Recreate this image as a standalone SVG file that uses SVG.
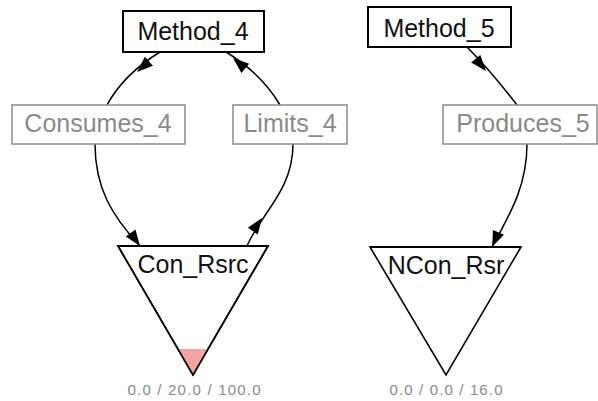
<svg xmlns="http://www.w3.org/2000/svg" xmlns:xlink="http://www.w3.org/1999/xlink" width="598" height="401" viewBox="0 0 598 401">
<style>
.bg{fill:#ffffff}
.method rect{fill:#ffffff;stroke:#000000;stroke-width:2}
.method text{font-family:"Liberation Sans",Arial,sans-serif;font-size:25px;fill:#111111;text-anchor:middle}
.link rect{fill:#ffffff;stroke:#8a8a8a;stroke-width:1.5}
.link text{font-family:"Liberation Sans",Arial,sans-serif;font-size:25px;fill:#8a8a8a;text-anchor:middle}
.res polygon.tri{fill:#ffffff;stroke:#000000;stroke-width:1.6;stroke-linejoin:miter}
.res polygon.lvl{fill:#f4a3a3;stroke:none}
.res line.top{stroke:#000000;stroke-width:2.2}
.res text.name{font-family:"Liberation Sans",Arial,sans-serif;font-size:25px;fill:#111111;text-anchor:middle}
.res text.val{font-family:"Liberation Sans",Arial,sans-serif;font-size:15px;fill:#8a8a8a;text-anchor:middle}
.edge{fill:none;stroke:#000000;stroke-width:1.5}
.head{fill:#000000;stroke:none}
</style>
<defs>
<path id="ah" d="M0,0 L-16,-6 L-16,6 Z"/>
</defs>
<rect class="bg" x="0" y="0" width="598" height="401"/>

<g id="connectors">
<path class="edge" d="M160,52 Q124,74 107,105"/>
<path class="edge" d="M95,144 C95,188 112,216 140,246"/>
<path class="edge" d="M247,246 C262,212 293,190 293,144"/>
<path class="edge" d="M280,105 Q262,74 226,52"/>
<path class="edge" d="M467,47 Q490,70 517,105"/>
<path class="edge" d="M527,144 C527,186 510,214 492,247"/>
<use class="head" xlink:href="#ah" href="#ah" transform="translate(137,72) rotate(138)"/>
<use class="head" xlink:href="#ah" href="#ah" transform="translate(233,58) rotate(-140)"/>
<use class="head" xlink:href="#ah" href="#ah" transform="translate(486,71) rotate(50)"/>
<use class="head" xlink:href="#ah" href="#ah" transform="translate(140,246) rotate(54)"/>
<use class="head" xlink:href="#ah" href="#ah" transform="translate(262,218) rotate(-55)"/>
<use class="head" xlink:href="#ah" href="#ah" transform="translate(492,247) rotate(114)"/>
</g>

<g id="Method_4" class="method">
<rect x="123" y="11" width="141" height="41"/>
<text x="193" y="40">Method_4</text>
</g>
<g id="Method_5" class="method">
<rect x="368" y="7" width="143" height="40"/>
<text x="439" y="37">Method_5</text>
</g>
<g id="Consumes_4" class="link">
<rect x="12" y="105" width="173" height="39"/>
<text x="98" y="132">Consumes_4</text>
</g>
<g id="Limits_4" class="link">
<rect x="233" y="105" width="114" height="39"/>
<text x="290" y="132">Limits_4</text>
</g>
<g id="Produces_5" class="link">
<rect x="443" y="105" width="154" height="39"/>
<text x="523" y="132">Produces_5</text>
</g>
<g id="Con_Rsrc" class="res">
<polygon class="tri" points="118,246 268,246 193,375"/>
<polygon class="lvl" points="178,349 208,349 193,375"/>
<polygon class="tri" points="118,246 268,246 193,375" style="fill:none"/>
<line class="top" x1="118" y1="246" x2="268" y2="246"/>
<text class="name" x="193" y="273">Con_Rsrc</text>
<text class="val" x="194" y="395" textLength="133" lengthAdjust="spacing">0.0 / 20.0 / 100.0</text>
</g>
<g id="NCon_Rsr" class="res">
<polygon class="tri" points="370,247 521,247 446,375"/>
<line class="top" x1="370" y1="247" x2="521" y2="247"/>
<text class="name" x="446" y="274">NCon_Rsr</text>
<text class="val" x="446" y="395" textLength="113" lengthAdjust="spacing">0.0 / 0.0 / 16.0</text>
</g>
</svg>
